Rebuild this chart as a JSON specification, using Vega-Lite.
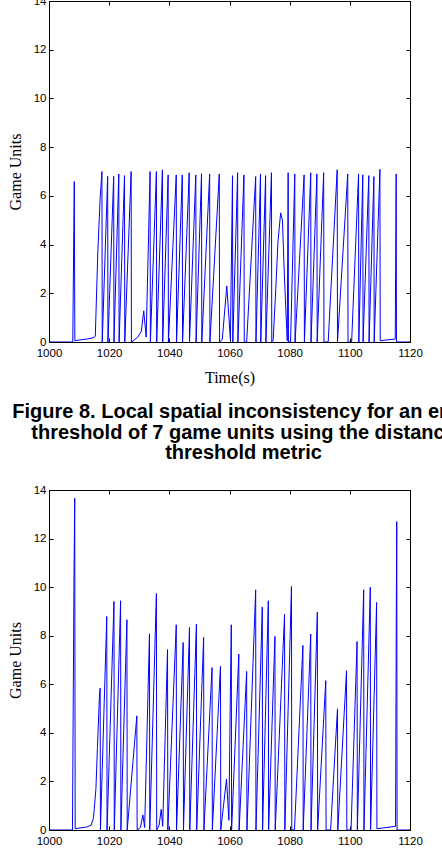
{
  "$schema": "https://vega.github.io/schema/vega-lite/v6.json",
  "padding": {"left": 6, "top": -6, "right": 0, "bottom": 0},
  "bounds": "flush",
  "spacing": 148,
  "config": {
    "view": {"stroke": "black", "strokeWidth": 1},
    "axis": {
      "grid": false,
      "domainColor": "black",
      "domainWidth": 1,
      "tickColor": "black",
      "tickSize": -4,
      "labelFont": "Liberation Sans",
      "labelFontSize": 11.5,
      "labelColor": "black",
      "labelPadding": 7,
      "labelFlush": false,
      "labelOverlap": false,
      "titleFont": "Liberation Serif",
      "titleFontSize": 16,
      "titleFontWeight": "normal",
      "titleColor": "black"
    },
    "axisBottom": {"labelPadding": 9.5},
    "line": {"color": "#0000ff", "strokeWidth": 1}
  },
  "datasets": {
    "fig8": [
      {"t": 1000, "v": 0}, {"t": 1007.9, "v": 0}, {"t": 1008.4, "v": 6.59}, {"t": 1008.6, "v": 0.05},
      {"t": 1010, "v": 0.08}, {"t": 1012.5, "v": 0.12}, {"t": 1015, "v": 0.18}, {"t": 1015.4, "v": 0.25},
      {"t": 1016.2, "v": 3.6}, {"t": 1017.0, "v": 5.9}, {"t": 1017.6, "v": 7.0}, {"t": 1017.7, "v": 0},
      {"t": 1019.5, "v": 6.8}, {"t": 1019.6, "v": 0},
      {"t": 1021.5, "v": 6.8}, {"t": 1021.6, "v": 0},
      {"t": 1023.2, "v": 6.9}, {"t": 1023.3, "v": 0},
      {"t": 1025.1, "v": 6.83}, {"t": 1025.2, "v": 0},
      {"t": 1027.3, "v": 7.0}, {"t": 1027.4, "v": 0},
      {"t": 1028.0, "v": 0.05}, {"t": 1029.5, "v": 0.2}, {"t": 1030.7, "v": 0.44}, {"t": 1031.5, "v": 1.28},
      {"t": 1032.3, "v": 0.2}, {"t": 1033.6, "v": 7.0}, {"t": 1033.7, "v": 0},
      {"t": 1035.7, "v": 7.0}, {"t": 1035.8, "v": 0},
      {"t": 1037.7, "v": 7.07}, {"t": 1037.8, "v": 0},
      {"t": 1039.6, "v": 6.86}, {"t": 1039.7, "v": 0},
      {"t": 1042.3, "v": 6.86}, {"t": 1042.4, "v": 0},
      {"t": 1044.3, "v": 6.86}, {"t": 1044.4, "v": 0},
      {"t": 1046.6, "v": 6.95}, {"t": 1046.7, "v": 0},
      {"t": 1048.8, "v": 6.86}, {"t": 1048.9, "v": 0},
      {"t": 1050.7, "v": 6.91}, {"t": 1050.8, "v": 0},
      {"t": 1053.4, "v": 6.9}, {"t": 1053.5, "v": 0},
      {"t": 1056.6, "v": 6.9}, {"t": 1056.7, "v": 0},
      {"t": 1057.6, "v": 0.1}, {"t": 1059.1, "v": 2.3}, {"t": 1060.3, "v": 0.1},
      {"t": 1061.0, "v": 6.83}, {"t": 1061.1, "v": 0},
      {"t": 1062.7, "v": 6.95}, {"t": 1062.8, "v": 0},
      {"t": 1064.8, "v": 6.86}, {"t": 1064.9, "v": 0},
      {"t": 1065.7, "v": 0}, {"t": 1068.7, "v": 6.79}, {"t": 1068.8, "v": 0},
      {"t": 1070.3, "v": 6.9}, {"t": 1070.4, "v": 0},
      {"t": 1072.0, "v": 6.83}, {"t": 1072.1, "v": 0},
      {"t": 1073.95, "v": 6.95}, {"t": 1074.05, "v": 0},
      {"t": 1074.5, "v": 0.05}, {"t": 1075.4, "v": 2.2}, {"t": 1076.1, "v": 4.1}, {"t": 1077.0, "v": 5.3},
      {"t": 1077.6, "v": 5.0}, {"t": 1078.1, "v": 3.2}, {"t": 1078.7, "v": 1.4}, {"t": 1079.2, "v": 0.05},
      {"t": 1079.5, "v": 6.95}, {"t": 1079.6, "v": 0},
      {"t": 1080.3, "v": 0}, {"t": 1081.7, "v": 6.9}, {"t": 1081.8, "v": 0},
      {"t": 1084.8, "v": 6.86}, {"t": 1084.9, "v": 0},
      {"t": 1087.0, "v": 6.95}, {"t": 1087.1, "v": 0},
      {"t": 1089.05, "v": 6.9}, {"t": 1089.15, "v": 0},
      {"t": 1091.3, "v": 6.95}, {"t": 1091.4, "v": 0},
      {"t": 1092.8, "v": 0}, {"t": 1095.8, "v": 7.07}, {"t": 1095.9, "v": 0},
      {"t": 1099.3, "v": 6.9}, {"t": 1099.4, "v": 0},
      {"t": 1100.6, "v": 0}, {"t": 1102.9, "v": 6.9}, {"t": 1103.0, "v": 0},
      {"t": 1104.3, "v": 6.86}, {"t": 1104.4, "v": 0},
      {"t": 1106.3, "v": 6.83}, {"t": 1106.4, "v": 0},
      {"t": 1108.0, "v": 6.79}, {"t": 1108.1, "v": 0},
      {"t": 1110.0, "v": 7.09}, {"t": 1110.1, "v": 0.05},
      {"t": 1112, "v": 0.08}, {"t": 1115.1, "v": 0.12}, {"t": 1115.4, "v": 6.9}, {"t": 1115.5, "v": 0},
      {"t": 1120, "v": 0}
    ],
    "fig9": [
      {"t": 1000, "v": 0}, {"t": 1007.8, "v": 0}, {"t": 1008.3, "v": 10.3}, {"t": 1008.55, "v": 13.66},
      {"t": 1008.7, "v": 0.05}, {"t": 1010, "v": 0.08}, {"t": 1012.5, "v": 0.12}, {"t": 1014.0, "v": 0.2},
      {"t": 1014.8, "v": 0.5}, {"t": 1015.6, "v": 1.7}, {"t": 1016.1, "v": 3.4}, {"t": 1016.8, "v": 5.6},
      {"t": 1017.0, "v": 5.84}, {"t": 1017.1, "v": 0},
      {"t": 1019.2, "v": 8.79}, {"t": 1019.3, "v": 0},
      {"t": 1021.6, "v": 9.41}, {"t": 1021.7, "v": 0},
      {"t": 1023.8, "v": 9.44}, {"t": 1023.9, "v": 0},
      {"t": 1025.9, "v": 8.66}, {"t": 1026.0, "v": 0},
      {"t": 1029.2, "v": 4.7}, {"t": 1029.3, "v": 0},
      {"t": 1030.4, "v": 0.1}, {"t": 1031.2, "v": 0.62}, {"t": 1031.8, "v": 0.1},
      {"t": 1033.4, "v": 8.08}, {"t": 1033.5, "v": 0},
      {"t": 1035.7, "v": 9.74}, {"t": 1035.8, "v": 0},
      {"t": 1036.6, "v": 0.2}, {"t": 1037.3, "v": 0.85}, {"t": 1037.8, "v": 0.15},
      {"t": 1039.4, "v": 7.43}, {"t": 1039.5, "v": 0},
      {"t": 1042.3, "v": 8.45}, {"t": 1042.4, "v": 0},
      {"t": 1044.6, "v": 7.72}, {"t": 1044.7, "v": 0},
      {"t": 1046.7, "v": 8.34}, {"t": 1046.8, "v": 0},
      {"t": 1049.0, "v": 8.48}, {"t": 1049.1, "v": 0},
      {"t": 1051.4, "v": 7.93}, {"t": 1051.5, "v": 0},
      {"t": 1054.2, "v": 6.69}, {"t": 1054.3, "v": 0},
      {"t": 1057.0, "v": 6.74}, {"t": 1057.1, "v": 0},
      {"t": 1059.0, "v": 2.09}, {"t": 1059.8, "v": 0.4}, {"t": 1060.3, "v": 5.7},
      {"t": 1060.6, "v": 8.45}, {"t": 1060.7, "v": 0},
      {"t": 1063.1, "v": 7.24}, {"t": 1063.2, "v": 0},
      {"t": 1065.7, "v": 6.53}, {"t": 1065.8, "v": 0},
      {"t": 1068.7, "v": 9.89}, {"t": 1068.8, "v": 0},
      {"t": 1070.9, "v": 9.18}, {"t": 1071.0, "v": 0},
      {"t": 1072.9, "v": 9.44}, {"t": 1073.0, "v": 0},
      {"t": 1075.1, "v": 7.97}, {"t": 1075.2, "v": 0},
      {"t": 1078.3, "v": 8.89}, {"t": 1078.4, "v": 0},
      {"t": 1080.6, "v": 10.03}, {"t": 1080.7, "v": 0},
      {"t": 1081.6, "v": 0}, {"t": 1084.4, "v": 7.6}, {"t": 1084.5, "v": 0},
      {"t": 1087.0, "v": 8.07}, {"t": 1087.1, "v": 0},
      {"t": 1089.2, "v": 8.97}, {"t": 1089.3, "v": 0},
      {"t": 1092.0, "v": 6.15}, {"t": 1092.1, "v": 0},
      {"t": 1093.6, "v": 0}, {"t": 1095.9, "v": 4.99}, {"t": 1096.0, "v": 0},
      {"t": 1098.9, "v": 6.56}, {"t": 1099.0, "v": 0},
      {"t": 1100.4, "v": 0}, {"t": 1102.4, "v": 7.76}, {"t": 1102.5, "v": 0},
      {"t": 1104.6, "v": 9.89}, {"t": 1104.7, "v": 0},
      {"t": 1106.8, "v": 9.99}, {"t": 1106.9, "v": 0},
      {"t": 1108.9, "v": 9.37}, {"t": 1109.0, "v": 0.05},
      {"t": 1112, "v": 0.1}, {"t": 1115.2, "v": 0.15}, {"t": 1115.45, "v": 9.0}, {"t": 1115.6, "v": 12.7},
      {"t": 1115.7, "v": 0}, {"t": 1120, "v": 0}
    ]
  },
  "vconcat": [
    {
      "width": 361,
      "height": 341,
      "data": {"name": "fig8"},
      "title": {
        "text": ["Figure 8. Local spatial inconsistency for an error", "threshold of 7 game units using the distance", "threshold metric"],
        "orient": "bottom",
        "anchor": "middle",
        "dx": 14,
        "offset": 17,
        "font": "Liberation Sans",
        "fontSize": 20,
        "fontWeight": "bold",
        "lineHeight": 20.5,
        "color": "black"
      },
      "layer": [
        {
          "mark": {"type": "line", "clip": true},
          "encoding": {
            "x": {"field": "t", "type": "quantitative", "scale": {"domain": [1000, 1120], "nice": false},
                  "axis": {"orient": "bottom", "values": [1000, 1020, 1040, 1060, 1080, 1100, 1120], "format": "d", "title": "Time(s)", "titlePadding": 10}},
            "y": {"field": "v", "type": "quantitative", "scale": {"domain": [0, 14], "nice": false, "zero": false},
                  "axis": {"orient": "left", "values": [0, 2, 4, 6, 8, 10, 12, 14], "title": "Game Units", "titlePadding": 10}}
          }
        },
        {
          "mark": {"type": "point", "opacity": 0},
          "encoding": {
            "x": {"field": "t", "type": "quantitative", "axis": {"orient": "top", "values": [1000, 1020, 1040, 1060, 1080, 1100, 1120], "labels": false, "title": null}},
            "y": {"field": "v", "type": "quantitative", "axis": {"orient": "right", "values": [0, 2, 4, 6, 8, 10, 12, 14], "labels": false, "title": null}}
          }
        }
      ],
      "resolve": {"axis": {"x": "independent", "y": "independent"}}
    },
    {
      "width": 361,
      "height": 340,
      "data": {"name": "fig9"},
      "layer": [
        {
          "mark": {"type": "line", "clip": true},
          "encoding": {
            "x": {"field": "t", "type": "quantitative", "scale": {"domain": [1000, 1120], "nice": false},
                  "axis": {"orient": "bottom", "values": [1000, 1020, 1040, 1060, 1080, 1100, 1120], "format": "d", "title": "Time(s)", "titlePadding": 10}},
            "y": {"field": "v", "type": "quantitative", "scale": {"domain": [0, 14], "nice": false, "zero": false},
                  "axis": {"orient": "left", "values": [0, 2, 4, 6, 8, 10, 12, 14], "title": "Game Units", "titlePadding": 10}}
          }
        },
        {
          "mark": {"type": "point", "opacity": 0},
          "encoding": {
            "x": {"field": "t", "type": "quantitative", "axis": {"orient": "top", "values": [1000, 1020, 1040, 1060, 1080, 1100, 1120], "labels": false, "title": null}},
            "y": {"field": "v", "type": "quantitative", "axis": {"orient": "right", "values": [0, 2, 4, 6, 8, 10, 12, 14], "labels": false, "title": null}}
          }
        }
      ],
      "resolve": {"axis": {"x": "independent", "y": "independent"}}
    }
  ]
}
